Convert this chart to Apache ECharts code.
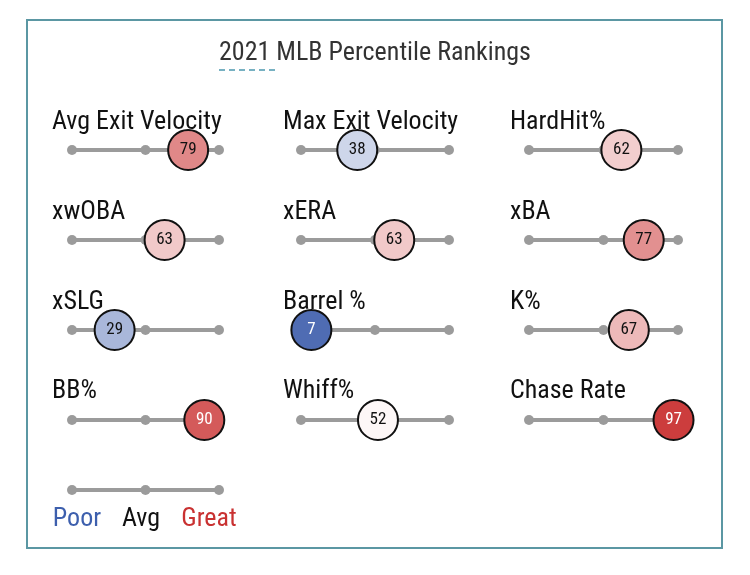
<!DOCTYPE html>
<html>
<head>
<meta charset="utf-8">
<script src="https://cdn.jsdelivr.net/npm/echarts@6/dist/echarts.min.js"></script>
<style>html,body{margin:0;padding:0;background:#fff}#c{width:750px;height:575px}</style>
</head>
<body>
<div id="c"></div>
<script>
var metrics = ['Avg Exit Velocity','Max Exit Velocity','HardHit%','xwOBA','xERA','xBA','xSLG','Barrel %','K%','BB%','Whiff%','Chase Rate'];
var percentiles = [79, 38, 62, 63, 63, 77, 29, 7, 67, 90, 52, 97];
var trackTicks = [0, 50, 100];
var legendLabels = ['Poor', 'Avg', 'Great'];
var titleText = '2021 MLB Percentile Rankings';

var FONT = '"Roboto Condensed", Roboto, sans-serif';
var colLeft = [72, 301, 529];
var colWidth = [147, 148, 149];
var labelX = [52, 283, 510];
var rowLine = [150, 240, 330, 420];
var rowLabel = [122, 212, 302, 391];

var grids = [], xAxes = [], yAxes = [], series = [], graphics = [];
var scatterIdx = [];
function addPanel(gi, left, width, lineY) {
  grids.push({left: left, width: width, top: lineY - 20, height: 40});
  xAxes.push({type: 'value', gridIndex: gi, min: 0, max: 100, show: false});
  yAxes.push({type: 'value', gridIndex: gi, min: -1, max: 1, show: false});
  series.push({
    type: 'line', xAxisIndex: gi, yAxisIndex: gi, silent: true,
    data: trackTicks.map(function (t) { return [t, 0]; }),
    symbol: 'circle', symbolSize: 10,
    lineStyle: {color: '#9b9b9b', width: 4},
    itemStyle: {color: '#9b9b9b'},
    z: 2
  });
}
metrics.forEach(function (m, i) {
  var c = i % 3, r = Math.floor(i / 3);
  addPanel(i, colLeft[c], colWidth[c], rowLine[r]);
  var v = percentiles[i];
  scatterIdx.push(series.length);
  series.push({
    type: 'scatter', xAxisIndex: i, yAxisIndex: i, silent: true,
    data: [[v, 0]],
    symbolSize: 40,
    itemStyle: {borderColor: '#111', borderWidth: 2, opacity: 1},
    label: {show: true, position: 'inside', formatter: String(v), fontFamily: FONT, fontSize: 17,
            color: (v < 15 || v > 85) ? '#ffffff' : '#111111'},
    z: 5
  });
  graphics.push({type: 'text', x: labelX[c], y: rowLabel[r],
    style: {text: m, fontFamily: FONT, fontSize: 26, fill: '#111', textVerticalAlign: 'middle', textAlign: 'left'}});
});
addPanel(metrics.length, colLeft[0], colWidth[0], 490);

var legendColors = ['#3d5fad', '#111111', '#c93131'];
var legendX = [77, 141, 209];
legendLabels.forEach(function (t, i) {
  graphics.push({type: 'text', x: legendX[i], y: 519,
    style: {text: t, fontFamily: FONT, fontSize: 26, fill: legendColors[i], textAlign: 'center', textVerticalAlign: 'middle'}});
});

graphics.push({type: 'rect', shape: {x: 27, y: 20, width: 695, height: 528},
  style: {fill: 'none', stroke: '#5b97a3', lineWidth: 2}, z: -1});
graphics.push({type: 'text', x: 375, y: 53,
  style: {text: titleText, fontFamily: FONT, fontSize: 26, fill: '#333', textAlign: 'center', textVerticalAlign: 'middle'}});
graphics.push({type: 'line', shape: {x1: 219, y1: 70, x2: 277, y2: 70},
  style: {stroke: '#4b98ae', lineWidth: 1.5, lineDash: [6, 4]}});

var chart = echarts.init(document.getElementById('c'));
chart.setOption({
  animation: false,
  backgroundColor: '#ffffff',
  grid: grids, xAxis: xAxes, yAxis: yAxes,
  visualMap: {type: 'continuous', show: false, min: 0, max: 100, dimension: 0,
    seriesIndex: scatterIdx, inRange: {color: ['#3254a7', '#ffffff', '#c93131']}},
  series: series,
  graphic: graphics
});
</script>
</body>
</html>
